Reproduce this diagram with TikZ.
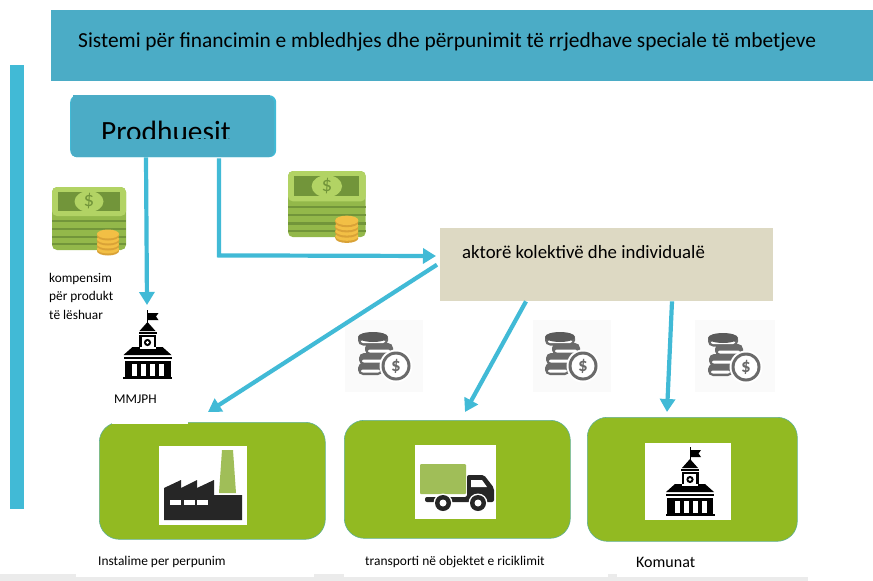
\documentclass[tikz,border=0pt]{standalone}
\usepackage{fontspec}
\setmainfont{Carlito}
\usetikzlibrary{arrows.meta,calc}
\definecolor{headblue}{HTML}{4BACC6}
\definecolor{flowblue}{HTML}{41BAD6}
\definecolor{boxgreen}{HTML}{92BA22}
\definecolor{boxbeige}{HTML}{DDD9C3}
\definecolor{cashlight}{HTML}{B2D364}
\definecolor{cashmid}{HTML}{93B84A}
\definecolor{cashdark}{HTML}{72953A}
\definecolor{coingold}{HTML}{F2BF45}
\definecolor{coinedge}{HTML}{D9A237}
\definecolor{coingrey}{HTML}{6A6A6A}
\definecolor{chimney}{HTML}{A0BE58}
\tikzset{
  flow/.style={line width=4.2pt,flowblue,-{Triangle[length=13pt,width=15pt]}},
  greenbox/.style={draw=headblue!70!boxgreen,fill=boxgreen,rounded corners=20pt,line width=0.6pt,anchor=north west,inner sep=0pt},
  tile/.style={fill=white,anchor=north west,inner sep=0pt},
  cointile/.style={fill=black!2,anchor=north west,inner sep=0pt,minimum height=72pt},
  caption/.style={anchor=base west,inner sep=0pt,text=black},
  pics/cityhall/.style={code={
    % flag and tower
    \draw[black,line width=0.9pt] (0,-40) -- (0,-26);
    \fill[black] (0.5,-37) -- (11,-37) -- (8.5,-33.5) -- (11,-30) -- (0.5,-30) -- cycle;
    \fill[black] (-8,-19) -- (0,-28) -- (8,-19) -- cycle;
    \fill[black] (-9,-18) rectangle (9,-16);
    \fill[black] (-8.5,-15) rectangle (8.5,0);
    \fill[white] (-6,-13) rectangle (6,-2);
    \fill[black] (0,-7.5) circle (3.6);
    \fill[white] (0,-7.5) circle (1.7);
    % roof and hall
    \fill[black] (-24,5) -- (-15,-3) -- (15,-3) -- (24,5) -- cycle;
    \fill[white] (-8,-3) rectangle (8,-1);
    \fill[black] (-24,6.5) rectangle (24,8.5);
    \fill[black] (-23,11) rectangle (23,27);
    \fill[black] (-24.5,27) rectangle (24.5,28.5);
    \foreach \px in {-13,-4,5,14}
      \fill[white] (\px-2.5,14) rectangle (\px+2.5,26);
  }},
  pics/cash/.style={code={
    % stack of notes
    \fill[rounded corners=5pt,cashmid] (0,0) rectangle (74,63);
    \foreach \py in {33,41,49,56}
      \fill[cashdark] (0,\py) rectangle (74,\py+2);
    \fill[rounded corners=5pt,cashlight] (0,0) rectangle (74,29);
    \fill[cashdark] (6,5) rectangle (68,24);
    \fill[cashlight] (37,14.5) ellipse (14.5 and 10.5);
    \node[text=cashdark,font=\fontsize{21}{21}\selectfont,inner sep=0pt] at (37,14.5) {\$};
    % coins
    \foreach \py in {62,57,52,47}{
      \fill[coinedge] (45,\py) rectangle (67,\py+2);
      \fill[coinedge] (56,\py+2) ellipse (11 and 4.5);
      \fill[coingold] (56,\py) ellipse (11 and 4.5);
    }
  }},
  pics/coinstack/.style={code={
    % coins from the bottom up, then the dollar round
    \foreach \cx/\cy/\cw in {12.5/37/12.5,14/27/13,21/17/14,15/7.5/15}{
      \fill[coingrey,rounded corners=5pt] (\cx-\cw,\cy-6) rectangle (\cx+\cw,\cy+6);
      \fill[white,rounded corners=2pt] (\cx-\cw+3,\cy+0.5) rectangle (\cx+\cw-3,\cy+3.5);
    }
    \fill[coingrey!85!black] (15,5) ellipse (15 and 5);
    \fill[white] (38,34) circle (16.5);
    \fill[coingrey] (38,34) circle (14.5);
    \fill[white] (38,34) circle (11.5);
    \node[text=coingrey,font=\fontsize{19}{19}\selectfont\bfseries,inner sep=0pt] at (38,34) {\$};
  }},
}
\begin{document}
\begin{tikzpicture}[x=1pt,y=-1pt]
    \useasboundingbox (0,0) rectangle (873,581);
    % Page edge at the bottom
    \fill[black!8] (0,577) rectangle (808,581);
    \fill[black!8] (0,573.5) rectangle (76,581);
    \fill[black!8] (314,573.5) rectangle (344,581);
    \fill[black!8] (608,573.5) rectangle (617,581);

    % Title band and side bar
    \node[fill=headblue,anchor=north west,inner sep=0pt,minimum width=822pt,minimum height=71pt] (band) at (51,10) {};
    \node[anchor=base west,inner sep=0pt,font=\fontsize{21.4}{22}\selectfont] (title) at (78,47) {Sistemi për financimin e mbledhjes dhe përpunimit të rrjedhave speciale të mbetjeve};
    \node[fill=flowblue,anchor=north west,inner sep=0pt,minimum width=14pt,minimum height=444pt] (sidebar) at (10,65) {};

    % Producers
    \node[fill=flowblue,rounded corners=7pt,anchor=north west,inner sep=0pt,minimum width=206pt,minimum height=62pt] (prodhuesit) at (70,95) {};
    \fill[headblue,rounded corners=5pt] (71,97) rectangle (274,157);
    \fill[headblue] (73,95) rectangle (270,100);
    \node[anchor=base west,inner sep=0pt,font=\fontsize{29.4}{30}\selectfont] (prodtext) at (101,141) {Prodhuesit};
    \fill[headblue] (90,138.5) rectangle (250,146);

    % Collective actors
    \node[fill=boxbeige,anchor=north west,inner sep=0pt,minimum width=333pt,minimum height=73pt] (aktore) at (440,228) {};
    \node[anchor=base west,inner sep=0pt,font=\fontsize{18.8}{19}\selectfont] (aktoretext) at (462,258) {aktorë kolektivë dhe individualë};

    % Green boxes
    \node[greenbox,minimum width=226pt,minimum height=117pt] (instalime) at (99,422) {};
    \fill[white] (112,421) rectangle (188,424);
    \node[greenbox,minimum width=226pt,minimum height=118pt] (transporti) at (344,420) {};
    \node[greenbox,minimum width=210pt,minimum height=124pt] (komunat) at (587,417) {};
    \node[tile,minimum width=88pt,minimum height=79pt] (tilefactory) at (159,446) {};
    \node[tile,minimum width=81pt,minimum height=74pt] (tiletruck) at (415,445) {};
    \node[tile,minimum width=86pt,minimum height=77pt] (tilehall) at (645,443) {};

    % Factory
    \fill[chimney] (222,450) -- (233,450) -- (236,493) -- (219,493) -- cycle;
    \fill[black!85] (164,520) -- (164,488) -- (181,480) -- (181,488) -- (197,480) -- (197,488) -- (214,480) -- (214,495) -- (242,495) -- (242,520) -- cycle;
    \foreach \wx in {170,184,197}
      \fill[white] (\wx,500) rectangle (\wx+11,505);

    % Truck
    \fill[chimney,rounded corners=1pt] (420,464) rectangle (466,494);
    \fill[black!85,rounded corners=2pt] (425,497) -- (467,497) -- (467,475) -- (484,475) -- (494,488) -- (494,502) -- (425,502) -- cycle;
    \fill[white] (471,480) -- (482,480) -- (487,487) -- (471,487) -- cycle;
    \foreach \wx in {443,478}{
      \fill[white] (\wx,503) circle (9.5);
      \fill[black!85] (\wx,503) circle (8);
      \fill[white] (\wx,503) circle (3.5);
    }

    % Town halls
    \pic at (147.5,350) {cityhall};
    \pic at (690,487) {cityhall};

    % Money
    \pic at (52,187) {cash};
    \pic[scale=1.05] at (288,171) {cash};
    \node[cointile,minimum width=78pt] (tileone) at (345,320) {};
    \node[cointile,minimum width=78pt] (tiletwo) at (533,320) {};
    \node[cointile,minimum width=80pt] (tilethree) at (695,320) {};
    \pic at (358,332) {coinstack};
    \pic at (545,332) {coinstack};
    \pic at (708,333) {coinstack};

    % Flows
    \coordinate (tipmm) at (147,305);
    \coordinate (tipak) at (436,256);
    \draw[flow] ($(prodhuesit.south west)+(76,0)$) -- (tipmm);
    \draw[flow] ($(prodhuesit.south west)+(149,1)$) -- ++(0,97) -- (tipak);
    \draw[flow] ($(aktore.west)+(-3,0)$) -- ($(instalime.north west)+(109,-10)$);
    \draw[flow] ($(aktore.south west)+(86,0)$) -- ($(transporti.north west)+(121,-8)$);
    \draw[flow] ($(aktore.south west)+(232,0)$) -- ($(komunat.north west)+(80,-5)$);

    % Labels
    \node[caption,font=\fontsize{13.3}{18.5}\selectfont,align=left,anchor=north west] (kompensim) at (49,273) {kompensim\\për produkt\\të lëshuar};
    \node[caption,font=\fontsize{13.4}{14}\selectfont] (mmjph) at (114,403) {MMJPH};
    \node[caption,font=\fontsize{13.4}{14}\selectfont] (capinst) at (98,565) {Instalime per perpunim};
    \node[caption,font=\fontsize{13.45}{14}\selectfont] (captran) at (365,565) {transporti në objektet e riciklimit};
    \node[caption,font=\fontsize{16}{16}\selectfont] (capkom) at (636,567) {Komunat};
\end{tikzpicture}
\end{document}
